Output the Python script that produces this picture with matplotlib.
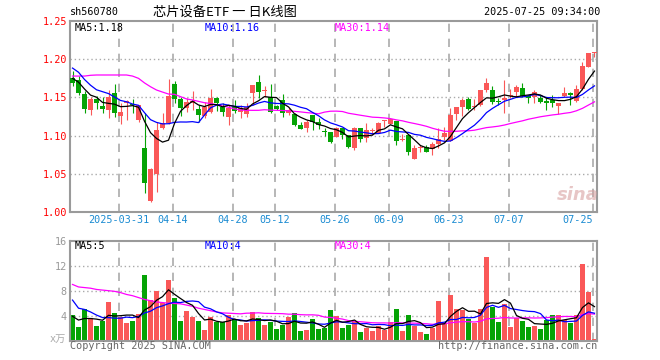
import numpy as np
import pandas as pd
from matplotlib import pyplot as plt

# daily candles, index 0 = 2025-03-19 ... 87 = 2025-07-25
open_ = [1.1759, 1.1728, 1.1544, 1.1334, 1.1474, 1.1387, 1.1334, 1.1553, 1.126, 1.1422,
         1.1413, 1.1203, 1.084, 1.014, 1.050, 1.1094, 1.116, 1.1675, 1.1474, 1.1356,
         1.1422, 1.1347, 1.1255, 1.131, 1.1496, 1.1378, 1.1247, 1.1378, 1.131, 1.1285,
         1.1562, 1.1706, 1.158, 1.150, 1.1391, 1.1466, 1.130, 1.128, 1.1137, 1.1094,
         1.1269, 1.118, 1.105, 1.1045, 1.0985, 1.1094, 1.1006, 1.084, 1.1098, 1.0962,
         1.106, 1.1037, 1.1185, 1.115, 1.1194, 1.0936, 1.1006, 1.0696, 1.084, 1.0853,
         1.0818, 1.0888, 1.0976, 1.0932, 1.1282, 1.1378, 1.1474, 1.1375, 1.140, 1.1597,
         1.1597, 1.144, 1.1466, 1.1516, 1.1575, 1.1619, 1.1518, 1.151, 1.1487, 1.1457,
         1.1466, 1.1391, 1.1518, 1.1553, 1.1453, 1.1606, 1.1903, 1.2087]
high = [1.1846, 1.178, 1.159, 1.151, 1.152, 1.150, 1.1597, 1.1675, 1.142, 1.1466,
        1.148, 1.140, 1.130, 1.057, 1.118, 1.130, 1.1737, 1.171, 1.151, 1.149,
        1.159, 1.140, 1.1444, 1.161, 1.151, 1.142, 1.140, 1.1466, 1.140, 1.143,
        1.1662, 1.1793, 1.165, 1.1675, 1.140, 1.1544, 1.1356, 1.129, 1.118, 1.120,
        1.127, 1.1225, 1.1094, 1.1046, 1.111, 1.1094, 1.1006, 1.1107, 1.1098, 1.116,
        1.1094, 1.118, 1.1203, 1.122, 1.1194, 1.1015, 1.1006, 1.0875, 1.0875, 1.0875,
        1.0919, 1.1094, 1.1107, 1.1356, 1.1378, 1.1487, 1.150, 1.1474, 1.1597, 1.175,
        1.165, 1.1487, 1.1728, 1.1605, 1.166, 1.1684, 1.153, 1.1597, 1.153, 1.151,
        1.153, 1.143, 1.164, 1.1575, 1.1662, 1.1968, 1.2078, 1.210]
low = [1.165, 1.153, 1.130, 1.127, 1.135, 1.129, 1.123, 1.1247, 1.1146, 1.120,
       1.129, 1.118, 1.025, 1.013, 1.026, 1.108, 1.115, 1.142, 1.1255, 1.131,
       1.133, 1.118, 1.1225, 1.130, 1.132, 1.126, 1.1137, 1.129, 1.1225, 1.1247,
       1.140, 1.1487, 1.151, 1.130, 1.134, 1.1247, 1.127, 1.112, 1.108, 1.105,
       1.107, 1.108, 1.100, 1.090, 1.098, 1.096, 1.083, 1.0805, 1.092, 1.092,
       1.1006, 1.103, 1.111, 1.115, 1.088, 1.0927, 1.0744, 1.0687, 1.079, 1.078,
       1.0743, 1.083, 1.094, 1.0932, 1.120, 1.1255, 1.1334, 1.1334, 1.1387, 1.1575,
       1.141, 1.140, 1.130, 1.1487, 1.151, 1.151, 1.143, 1.142, 1.143, 1.1334,
       1.138, 1.128, 1.151, 1.140, 1.1444, 1.1597, 1.1894, 1.2034]
close = [1.1693, 1.1562, 1.1352, 1.1474, 1.1431, 1.1352, 1.150, 1.130, 1.1308, 1.1452,
         1.140, 1.1395, 1.038, 1.056, 1.1072, 1.116, 1.152, 1.148, 1.1356, 1.1444,
         1.1452, 1.1269, 1.1378, 1.1496, 1.143, 1.131, 1.1365, 1.1315, 1.1356, 1.137,
         1.1662, 1.1575, 1.159, 1.131, 1.1352, 1.129, 1.1334, 1.1137, 1.1085, 1.118,
         1.118, 1.1137, 1.104, 1.0919, 1.110, 1.1006, 1.0845, 1.1094, 1.0954, 1.1072,
         1.1063, 1.116, 1.1186, 1.122, 1.0932, 1.0941, 1.0787, 1.0831, 1.0848, 1.0788,
         1.0888, 1.0958, 1.1037, 1.1269, 1.1378, 1.1466, 1.1347, 1.1378, 1.1597, 1.1684,
         1.1444, 1.1439, 1.1496, 1.1518, 1.164, 1.1518, 1.1488, 1.1566, 1.1444, 1.143,
         1.1422, 1.143, 1.1562, 1.1531, 1.1606, 1.1912, 1.2078, 1.210]
volume = [4.1, 2.24, 5.0, 3.57, 2.35, 3.2, 6.19, 4.43, 3.84, 2.83,
          3.2, 4.2, 10.5, 6.5, 7.95, 6.08, 9.7, 6.88, 3.15, 4.75,
          3.84, 3.15, 1.7, 3.84, 3.04, 3.04, 4.1, 3.3, 2.5, 2.88,
          4.59, 3.63, 2.5, 2.99, 1.87, 2.56, 3.79, 4.37, 1.55, 1.76,
          3.52, 1.92, 1.97, 4.9, 3.95, 2.03, 2.5, 3.15, 1.39, 2.08,
          1.6, 2.4, 1.7, 2.99, 5.07, 1.55, 4.1, 2.35, 1.39, 1.07,
          1.97, 6.35, 2.77, 7.3, 5.07, 4.9, 3.47, 2.88, 5.07, 13.44,
          5.44, 3.04, 5.87, 2.24, 3.57, 3.2, 2.24, 2.4, 1.92, 3.3,
          4.1, 4.1, 3.3, 2.77, 4.1, 12.27, 7.84, 0.27]

ma5_head = [1.175, 1.170, 1.161, 1.153]
ma10_head = [1.1885, 1.183, 1.1735, 1.166, 1.160, 1.1575, 1.155, 1.1505, 1.146]
ma30_head = [1.178, 1.178, 1.178, 1.179, 1.1794, 1.1794, 1.1794, 1.1794, 1.1794, 1.1794,
             1.178, 1.175, 1.169, 1.164, 1.1597, 1.157, 1.1544, 1.154, 1.151, 1.148,
             1.1466, 1.1448, 1.143, 1.142, 1.1404, 1.1387, 1.137, 1.135, 1.1334]
vol_ma5_head = [3.9, 3.3, 3.55, 3.55]
vol_ma10_head = [6.5, 5.2, 5.0, 4.6, 4.1, 3.7, 3.7, 3.6, 3.6]
vol_ma30_head = [9.0, 8.6, 8.5, 8.4, 8.2, 8.1, 8.0, 7.9, 7.7, 7.4,
                 7.2, 6.9, 6.6, 6.4, 6.2, 6.1, 6.0, 5.95, 5.9, 5.7,
                 5.5, 5.2, 5.0, 4.8, 4.6, 4.45, 4.4, 4.35, 4.3]

date_idx = [8, 17, 27, 34, 44, 53, 63, 73, 87]
date_labels = ['2025-03-31', '04-14', '04-28', '05-12', '05-26', '06-09', '06-23', '07-07', '07-25']
price_ticks = [1.00, 1.05, 1.10, 1.15, 1.20, 1.25]
vol_ticks = [4, 8, 12, 16]


def moving_average(values, n, head):
    ma = pd.Series(values).rolling(n).mean().to_numpy()
    ma[:n - 1] = head
    return ma


RED = '#fa5858'
GREEN = '#05a305'
GRID = '#aaaaaa'
MONO = 'DejaVu Sans Mono'
fs = 7.3

o, h, l, c = map(np.array, (open_, high, low, close))
x = np.arange(len(c))
up = c >= o
colors = np.where(up, RED, GREEN)

W, H = 660, 360
fig = plt.figure(figsize=(6.6, 3.6), dpi=100)
left, right = 70.3, 597
ax1 = fig.add_axes([left / W, 1 - 211.7 / H, (right - left) / W, (211.7 - 21.2) / H])
ax2 = fig.add_axes([left / W, 1 - 340.7 / H, (right - left) / W, 100 / H])

xlim = (-0.37, 87.42)
for ax in (ax1, ax2):
    ax.set_xlim(*xlim)
    for s in ax.spines.values():
        s.set_color('#9a9a9a')
        s.set_linewidth(1.5)
    ax.tick_params(length=0)
    for d in date_idx:
        ax.axvline(d - 0.3, color=GRID, lw=1.2, ls=(0, (5, 4)), zorder=0)

# price panel
ax1.set_ylim(1.0, 1.25)
for p in price_ticks[1:-1]:
    ax1.axhline(p, color=GRID, lw=1, ls=(0, (1, 2)), zorder=0)
ax1.vlines(x, l, h, colors=colors, lw=0.8, zorder=2)
body = np.maximum(np.abs(c - o), 0.0013)
ax1.bar(x, body, bottom=np.minimum(o, c), width=0.8, color=colors, lw=0, zorder=3)
ax1.plot(x, moving_average(c, 30, ma30_head), color='#ff00ff', lw=0.9, zorder=4)
ax1.plot(x, moving_average(c, 10, ma10_head), color='#0000ff', lw=0.9, zorder=4)
ax1.plot(x, moving_average(c, 5, ma5_head), color='black', lw=0.9, zorder=4)
ax1.set_yticks(price_ticks)
ax1.set_yticklabels(['%.2f' % p for p in price_ticks], color='red', fontsize=fs, family=MONO)
ax1.set_xticks(np.array(date_idx) - 0.3)
ax1.set_xticklabels(date_labels, color='#1a8bd2', fontsize=fs, family=MONO)
ax1.tick_params(axis='x', pad=2.5)
ax1.tick_params(axis='y', pad=2.5)
ax1.get_xticklabels()[-1].set_ha('right')

# volume panel
ax2.set_ylim(0, 16)
for v in vol_ticks[:-1]:
    ax2.axhline(v, color=GRID, lw=1, ls=(0, (1, 2)), zorder=0)
ax2.bar(x, volume, width=0.82, color=colors, lw=0, zorder=2)
ax2.plot(x, moving_average(volume, 30, vol_ma30_head), color='#ff00ff', lw=0.9, zorder=4)
ax2.plot(x, moving_average(volume, 10, vol_ma10_head), color='#0000ff', lw=0.9, zorder=4)
ax2.plot(x, moving_average(volume, 5, vol_ma5_head), color='black', lw=0.9, zorder=4)
ax2.set_yticks(vol_ticks)
ax2.set_yticklabels([str(v) for v in vol_ticks], color='#999999', fontsize=fs, family=MONO)
ax2.tick_params(axis='y', pad=2.5)
ax2.set_xticks([])


def ftext(px, py, s, **kw):
    kw.setdefault('fontsize', fs)
    kw.setdefault('family', MONO)
    kw.setdefault('va', 'center')
    fig.text(px / W, 1 - py / H, s, **kw)


ftext(70, 12, 'sh560780')
ftext(225, 12, '芯片设备ETF 一 日K线图', ha='center', fontsize=9.5,
      family=['Noto Sans CJK SC', 'DejaVu Sans'])
ftext(600, 12, '2025-07-25 09:34:00', ha='right')
ftext(75, 28, 'MA5:1.18', color='black')
ftext(205, 28, 'MA10:1.16', color='#0000ff')
ftext(335, 28, 'MA30:1.14', color='#ff00ff')
ftext(75, 246, 'MA5:5', color='black')
ftext(205, 246, 'MA10:4', color='#0000ff')
ftext(335, 246, 'MA30:4', color='#ff00ff')
ftext(66, 339, 'x万', ha='right', color='#aaaaaa', family=[MONO, 'Noto Sans CJK SC'])
ftext(70, 346, 'Copyright 2025 SINA.COM', color='#666666')
ftext(597, 346, 'http://finance.sina.com.cn', ha='right', color='#666666')
ftext(578, 195, 'sina', ha='center', color='#d8a0a0', alpha=0.6, fontsize=13,
      style='italic', weight='bold', family='DejaVu Sans')

fig.savefig('out.png', dpi=100)
